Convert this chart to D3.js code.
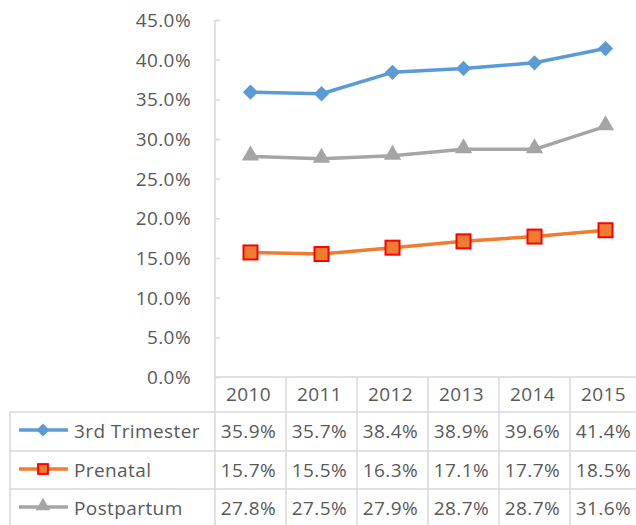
<!doctype html>
<html lang=en>
<head>
<meta charset=utf-8>
<title>Line chart with data table</title>
<script src="https://d3js.org/d3.v7.min.js"></script>
<style>
  body { margin: 0; background: #fff; }
  text { font-family: "Open Sans", sans-serif; fill: #595959; font-size: 19px; letter-spacing: 0.4px; }
</style>
</head>
<body>
<div id="container"></div>
<script>
    // chart data
    var years = ["2010", "2011", "2012", "2013", "2014", "2015"];
    var trimester = [35.9, 35.7, 38.4, 38.9, 39.6, 41.4];
    var prenatal = [15.7, 15.5, 16.3, 17.1, 17.7, 18.5];
    var postpartum = [27.8, 27.5, 27.9, 28.7, 28.7, 31.6];
    var yTicks = [0, 5, 10, 15, 20, 25, 30, 35, 40, 45];

    var series = [
        {name: "3rd Trimester", values: trimester, color: "#5b9bd5", marker: "diamond"},
        {name: "Prenatal", values: prenatal, color: "#ed7d31", marker: "square"},
        {name: "Postpartum", values: postpartum, color: "#a5a5a5", marker: "triangle"}
    ];

    var w = 636, h = 525;
    var svg = d3.select("#container").append("svg")
        .attr("width", w).attr("height", h);

    var x = d3.scaleBand().domain(years).range([215, 641]);
    var y = d3.scaleLinear().domain([0, 45]).range([377, 20]);

    var grid = "#d9d9d9";

    // y axis
    var yAxis = d3.axisRight(y).tickValues(yTicks).tickSize(5).tickFormat(function(d) { return ""; });
    var ga = svg.append("g").attr("transform", "translate(215,0)").call(yAxis);
    ga.selectAll("path, line").attr("stroke", grid).attr("stroke-width", 1.5);
    ga.select(".domain").attr("d", "M0," + y(45) + "V" + y(0));

    svg.append("g").selectAll("text")
        .data(yTicks)
        .enter()
        .append("text")
        .attr("x", 191)
        .attr("y", function(d) { return y(d) + 7; })
        .attr("text-anchor", "end")
        .text(function(d) { return d.toFixed(1) + "%"; });

    // data table
    var tblTop = 377, rowTops = [377, 412, 451, 489, 528];
    var tbl = svg.append("g").attr("stroke", grid).attr("stroke-width", 1.5);
    tbl.append("line").attr("x1", 215).attr("x2", w).attr("y1", tblTop).attr("y2", tblTop);
    rowTops.slice(1).forEach(function(r) {
        tbl.append("line").attr("x1", 10).attr("x2", w).attr("y1", r).attr("y2", r);
    });
    tbl.append("line").attr("x1", 10).attr("x2", 10).attr("y1", rowTops[1]).attr("y2", h);
    years.forEach(function(yr) {
        tbl.append("line").attr("x1", x(yr)).attr("x2", x(yr)).attr("y1", tblTop).attr("y2", h);
    });

    svg.append("g").selectAll("text")
        .data(years)
        .enter()
        .append("text")
        .attr("x", function(d) { return x(d) + x.bandwidth() / 2 - 2; })
        .attr("y", 401)
        .attr("text-anchor", "middle")
        .text(function(d) { return d; });

    function drawMarker(g, s, cx, cy, scale) {
        if (s.marker === "diamond") {
            g.append("path")
                .attr("d", d3.symbol().type(d3.symbolDiamond2).size(150 * scale)())
                .attr("transform", "translate(" + cx + "," + cy + ")")
                .attr("fill", s.color);
        } else if (s.marker === "square") {
            var r = 7 * scale;
            g.append("rect")
                .attr("x", cx - r).attr("y", cy - r)
                .attr("width", 2 * r).attr("height", 2 * r)
                .attr("fill", s.color).attr("stroke", "#ff0000").attr("stroke-width", 2);
        } else {
            g.append("path")
                .attr("d", d3.symbol().type(d3.symbolTriangle).size(130 * scale)())
                .attr("transform", "translate(" + cx + "," + (cy - 1) + ")")
                .attr("fill", s.color);
        }
    }

    var rowMid = [431, 470, 508];
    series.forEach(function(s, i) {
        var g = svg.append("g");
        g.append("line")
            .attr("x1", 19).attr("x2", 68)
            .attr("y1", rowMid[i] - 1).attr("y2", rowMid[i] - 1)
            .attr("stroke", s.color).attr("stroke-width", 3.5);
        drawMarker(g, s, 43, rowMid[i] - 1, 0.7);
        g.append("text")
            .attr("x", 74).attr("y", rowMid[i] + 7)
            .text(s.name);
        g.selectAll("text.v")
            .data(s.values)
            .enter()
            .append("text")
            .attr("class", "v")
            .attr("x", function(d, j) { return x(years[j]) + x.bandwidth() / 2 - 2; })
            .attr("y", rowMid[i] + 7)
            .attr("text-anchor", "middle")
            .text(function(d) { return d.toFixed(1) + "%"; });
    });

    // lines and markers
    var line = d3.line()
        .x(function(d, j) { return x(years[j]) + x.bandwidth() / 2; })
        .y(function(d) { return y(d); });

    series.forEach(function(s) {
        var g = svg.append("g");
        g.append("path")
            .datum(s.values)
            .attr("d", line)
            .attr("fill", "none")
            .attr("stroke", s.color)
            .attr("stroke-width", 3.5)
            .attr("stroke-linejoin", "round");
        s.values.forEach(function(v, j) {
            drawMarker(g, s, x(years[j]) + x.bandwidth() / 2, y(v), 1);
        });
    });
</script>
</body>
</html>
